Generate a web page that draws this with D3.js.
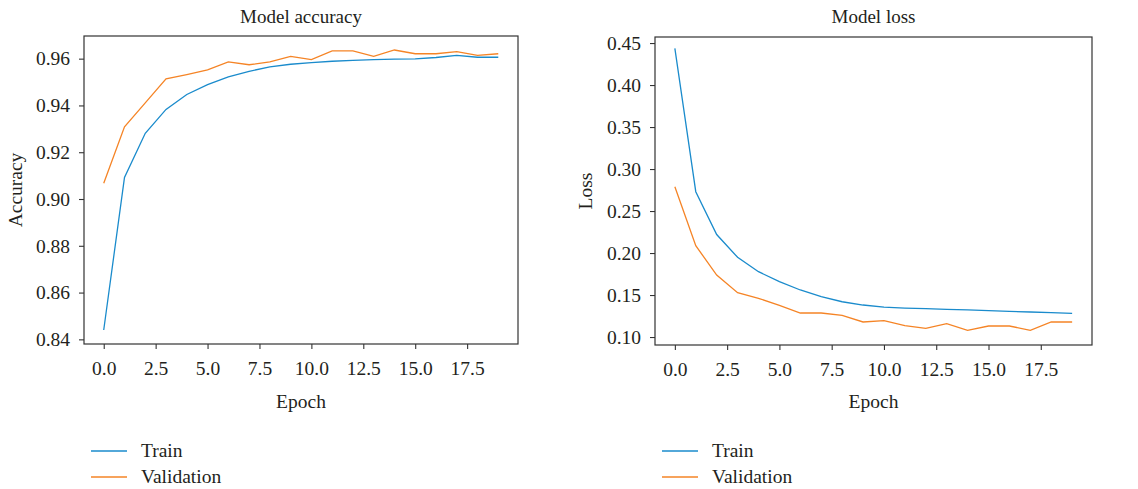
<!DOCTYPE html>
<html><head><meta charset="utf-8">
<script src="https://cdn.jsdelivr.net/npm/d3@7"></script>
<style>
body{margin:0;background:#fff;}
text{font-family:"Liberation Serif","DejaVu Serif",serif;fill:#231f20;}
</style></head>
<body><svg id="c" width="1138" height="489"></svg>
<script>
const epochs = d3.range(0, 20);
const accTrain = [0.844,0.9092,0.9281,0.9383,0.9447,0.9489,0.9522,0.9546,0.9565,0.9576,0.9583,0.9589,0.9593,0.9596,0.9598,0.9599,0.9605,0.9614,0.9606,0.9606];
const accVal   = [0.9067,0.9309,0.9411,0.9514,0.9532,0.9552,0.9586,0.9574,0.9586,0.961,0.9596,0.9633,0.9633,0.961,0.9637,0.9621,0.9621,0.963,0.9614,0.9621];
const lossTrain = [0.4437,0.273,0.222,0.1949,0.1778,0.1659,0.156,0.148,0.142,0.1381,0.1357,0.1345,0.1337,0.133,0.1322,0.1314,0.1306,0.1298,0.129,0.1282];
const lossVal   = [0.2789,0.2087,0.1738,0.1528,0.1461,0.1377,0.1286,0.1286,0.1258,0.1179,0.1194,0.1135,0.1103,0.1159,0.108,0.1131,0.1131,0.108,0.1179,0.1179];
const xTicks = [0,2.5,5,7.5,10,12.5,15,17.5];
const accTicks = [0.84,0.86,0.88,0.90,0.92,0.94,0.96];
const lossTicks = [0.10,0.15,0.20,0.25,0.30,0.35,0.40,0.45];
const seriesNames = ["Train","Validation"];
const colors = ["#1a8bcc","#f58426"];

const svg = d3.select("#c");

function pad(ext){const r=ext[1]-ext[0];return [ext[0]-0.05*r, ext[1]+0.05*r];}

function panel(opt){
  const {x0,x1,y0,y1,title,ylabel,train,val,yTicks,yFmt,legX,ylabX,yDomain} = opt;
  const g = svg.append("g");
  const x = d3.scaleLinear().domain(pad([0,19])).range([x0,x1]);
  const y = d3.scaleLinear().domain(yDomain || pad(d3.extent(train.concat(val)))).range([y1,y0]);
  g.append("rect").attr("x",x0).attr("y",y0).attr("width",x1-x0).attr("height",y1-y0)
    .attr("fill","none").attr("stroke","#333").attr("stroke-width",1.2);
  const xa = g.append("g").attr("transform",`translate(0,${y1})`)
    .call(d3.axisBottom(x).tickValues(xTicks).tickFormat(d3.format(".1f")).tickSize(5).tickPadding(12));
  const ya = g.append("g").attr("transform",`translate(${x0},0)`)
    .call(d3.axisLeft(y).tickValues(yTicks).tickFormat(d3.format(yFmt)).tickSize(5).tickPadding(9));
  [xa,ya].forEach(a=>{
    a.select(".domain").remove();
    a.selectAll(".tick line").attr("stroke","#333").attr("stroke-width",1.1);
    a.selectAll("text").style("font-size","19.5px").attr("fill","#231f20");
  });
  const line = d3.line().x((d,i)=>x(epochs[i])).y(d=>y(d));
  [train,val].forEach((s,k)=>{
    g.append("path").datum(s).attr("d",line).attr("fill","none")
      .attr("stroke",colors[k]).attr("stroke-width",1.3);
  });
  g.append("text").attr("x",(x0+x1)/2).attr("y",23).attr("text-anchor","middle")
    .style("font-size","19px").text(title);
  g.append("text").attr("x",(x0+x1)/2).attr("y",408).attr("text-anchor","middle")
    .style("font-size","19.5px").text("Epoch");
  g.append("text").attr("transform",`translate(${ylabX},${(y0+y1)/2}) rotate(-90)`)
    .attr("text-anchor","middle").style("font-size","19.5px").text(ylabel);
  seriesNames.forEach((n,k)=>{
    const ly = 451 + k*26;
    g.append("line").attr("x1",legX).attr("x2",legX+36).attr("y1",ly).attr("y2",ly)
      .attr("stroke",colors[k]).attr("stroke-width",1.3);
    g.append("text").attr("x",legX+50).attr("y",ly+6).style("font-size","19.5px").text(n);
  });
}

panel({x0:84,x1:518,y0:36,y1:344,title:"Model accuracy",ylabel:"Accuracy",train:accTrain,val:accVal,
  yTicks:accTicks,yFmt:".2f",legX:91,ylabX:22});
panel({x0:655,x1:1092,y0:37,y1:345,title:"Model loss",ylabel:"Loss",train:lossTrain,val:lossVal,
  yTicks:lossTicks,yFmt:".2f",legX:662,ylabX:592,yDomain:[0.0905,0.4572]});
</script></body></html>
